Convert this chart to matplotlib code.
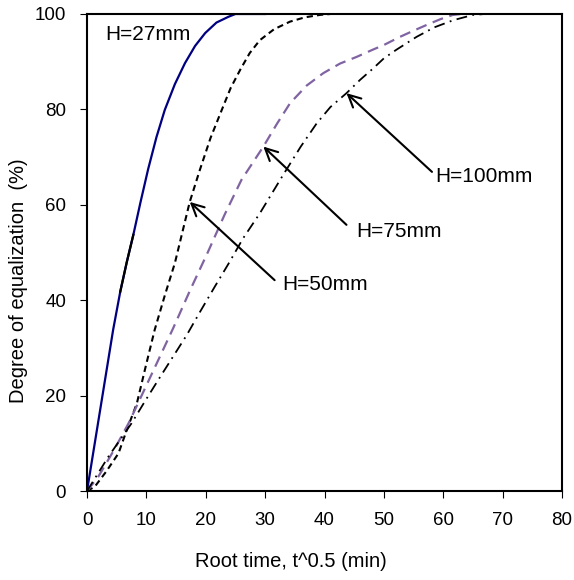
import matplotlib
matplotlib.use("Agg")
import matplotlib.pyplot as plt

plt.rcParams['font.family'] = ['Liberation Sans', 'DejaVu Sans']

# H = 27 mm (blue solid, with a short black overlap segment)
h27_x = [0, 4.4, 5.6, 6.7, 7.8, 9.0, 10.3, 11.7, 13.1, 14.8, 16.5, 18.2, 19.9, 21.8, 23.8, 25.0, 30]
h27_y = [0, 33.8, 41.8, 48.0, 53.7, 60.5, 67.5, 74.2, 79.9, 85.3, 89.7, 93.3, 96.0, 98.2, 99.4, 100, 100]
h27b_x = [5.6, 6.7, 7.8]
h27b_y = [41.8, 48.0, 53.7]

# H = 50 mm (black short dashes)
h50_x = [0, 1.3, 3.3, 5.3, 6.7, 8.4, 9.9, 11.4, 13.1, 14.8, 17.3, 19.0, 20.8, 22.7, 24.2,
         25.8, 27.4, 29.1, 31.5, 34.2, 36.7, 39.2, 41]
h50_y = [0, 0.9, 4.2, 7.9, 12.8, 18.4, 26.2, 33.8, 41.0, 47.8, 60.6, 67.3, 74.0, 79.9, 84.5,
         88.3, 91.8, 94.5, 96.8, 98.4, 99.3, 99.8, 100]

# H = 75 mm (purple dashes)
h75_x = [0, 1.9, 4.5, 7.0, 10.7, 14.5, 17.4, 20.4, 23.2, 26.0, 29.7, 32.0, 34.2, 37.0, 39.8,
         42.6, 45.4, 48.1, 50.0, 52.7, 55.0, 57.2, 59.5, 61.6, 63]
h75_y = [0, 3.0, 8.5, 14.2, 24.0, 34.1, 42.2, 50.2, 58.0, 65.2, 72.2, 77.0, 81.3, 85.0, 87.6,
         89.6, 91.0, 92.5, 93.5, 95.2, 96.5, 97.7, 98.9, 99.8, 100]

# H = 100 mm (black dash-dot)
h100_x = [0, 3.6, 7.5, 9.7, 12.0, 14.4, 16.8, 19.1, 21.5, 24.0, 26.3, 29.1, 33.0, 36.0, 38.7,
          41.0, 43.7, 46.0, 48.2, 50.0, 52.1, 55.5, 58.5, 61.7, 65.0, 67]
h100_y = [0, 7.2, 14.2, 18.7, 23.3, 28.0, 32.7, 37.7, 42.8, 48.0, 53.0, 58.2, 66.2, 72.2, 77.1,
          80.5, 83.4, 86.2, 88.6, 90.7, 92.5, 95.2, 97.2, 98.7, 99.8, 100]

x_ticks = [0, 10, 20, 30, 40, 50, 60, 70, 80]
y_ticks = [0, 20, 40, 60, 80, 100]

fig = plt.figure(figsize=(5.74, 5.80), dpi=100)
ax = fig.add_axes([0.1516, 0.1534, 0.8275, 0.8225])

ax.plot(h27_x, h27_y, color='#000080', lw=1.6)
ax.plot(h27b_x, h27b_y, color='black', lw=1.6)
ax.plot(h50_x, h50_y, color='black', lw=1.5, dashes=(3, 2))
ax.plot(h75_x, h75_y, color='#8064A2', lw=1.6, dashes=(5, 3))
ax.plot(h100_x, h100_y, color='black', lw=1.3, dashes=(6, 3, 1, 3))

arrow = dict(arrowstyle='->', color='black', lw=1.5, mutation_scale=22, shrinkA=0, shrinkB=0)
ax.annotate('', xy=(17.3, 60.6), xytext=(31.6, 44.2), arrowprops=arrow)
ax.annotate('', xy=(29.7, 72.2), xytext=(43.7, 55.8), arrowprops=arrow)
ax.annotate('', xy=(43.7, 83.4), xytext=(58.1, 66.9), arrowprops=arrow)
ax.text(32.8, 43.2, 'H=50mm', fontsize=15, ha='left', va='center')
ax.text(45.3, 54.4, 'H=75mm', fontsize=15, ha='left', va='center')
ax.text(58.6, 66.0, 'H=100mm', fontsize=15, ha='left', va='center')
ax.text(3.15, 95.8, 'H=27mm', fontsize=15, ha='left', va='center')

ax.set_xlim(0, 80)
ax.set_ylim(0, 100)
ax.set_xticks(x_ticks)
ax.set_yticks(y_ticks)
ax.tick_params(direction='out', length=5, labelsize=13.5, pad=10)
for s in ax.spines.values():
    s.set_linewidth(1.5)

ax.set_xlabel('Root time, t^0.5 (min)', fontsize=14.5)
ax.set_ylabel('Degree of equalization  (%)', fontsize=14.5)
ax.xaxis.set_label_coords(0.43, -0.128)
ax.yaxis.set_label_coords(-0.125, 0.44)

fig.savefig('out.png', dpi=100)
